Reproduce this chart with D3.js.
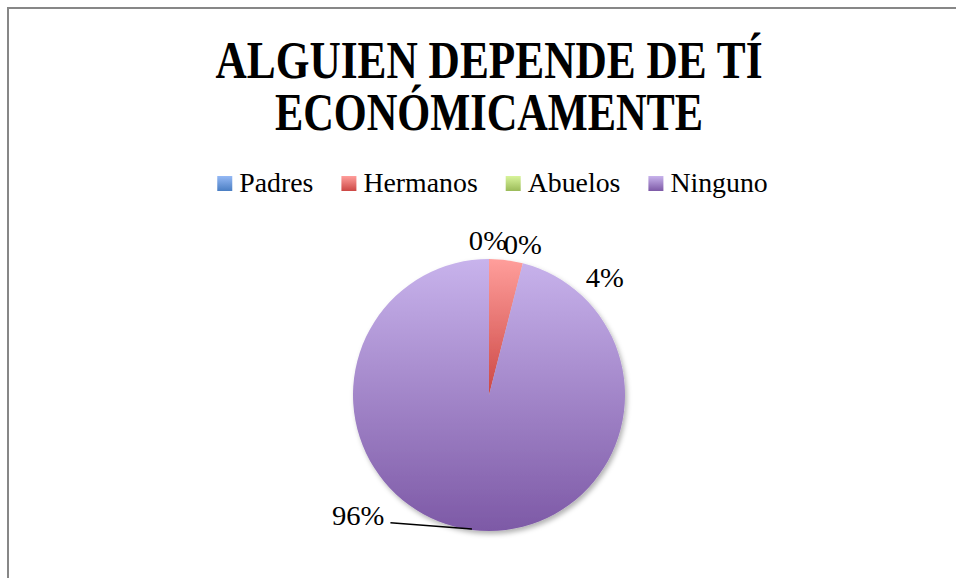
<!DOCTYPE html>
<html>
<head>
<meta charset="utf-8">
<script src="https://cdn.jsdelivr.net/npm/d3@7"></script>
<style>
  html, body { margin: 0; padding: 0; background: #fff; }
  svg { display: block; }
</style>
</head>
<body>
<div id="chart"></div>
<script>
// Pie chart: ¿alguien depende de ti económicamente?
const categories = ["Padres", "Hermanos", "Abuelos", "Ninguno"];
const values = [0, 4, 0, 96];
const labels = ["0%", "4%", "0%", "96%"];
const titleLines = ["ALGUIEN DEPENDE DE TÍ", "ECONÓMICAMENTE"];

// gradient stops (light top -> dark bottom), per category
const colorsLight = ["#95b9f5", "#ff9e9b", "#d8f49b", "#c8b3ec"];
const colorsDark  = ["#4a7ec3", "#cc4744", "#9bbb59", "#7d59a6"];

function drawGraph() {
  const width = 956, height = 578;
  const font = "'Liberation Serif', 'Times New Roman', serif";

  const svg = d3.select("#chart").append("svg")
    .attr("width", width)
    .attr("height", height);

  const defs = svg.append("defs");
  categories.forEach((c, i) => {
    const g = defs.append("linearGradient")
      .attr("id", "grad" + i)
      .attr("x1", 0).attr("y1", 0).attr("x2", 0).attr("y2", 1);
    g.append("stop").attr("offset", "0%").attr("stop-color", colorsLight[i]);
    g.append("stop").attr("offset", "100%").attr("stop-color", colorsDark[i]);
  });

  const shadow = defs.append("filter").attr("id", "shadow")
    .attr("x", "-10%").attr("y", "-10%").attr("width", "125%").attr("height", "125%");
  shadow.append("feDropShadow")
    .attr("dx", 2).attr("dy", 3).attr("stdDeviation", 2.5)
    .attr("flood-color", "#000").attr("flood-opacity", 0.3);

  // stretch a text element horizontally to mimic the wider Cambria face
  function widen(sel, k) {
    const w = sel.node().getComputedTextLength();
    sel.attr("textLength", w * k).attr("lengthAdjust", "spacingAndGlyphs");
    return w * k;
  }

  // chart frame (extends past the window on right/bottom)
  svg.append("rect")
    .attr("x", 8).attr("y", 8)
    .attr("width", width + 20).attr("height", height + 20)
    .attr("fill", "none")
    .attr("stroke", "#878787")
    .attr("stroke-width", 2);

  // TITLE
  const titleWidths = [547, 428];
  const titleY = [78, 130];
  titleLines.forEach((t, i) => {
    svg.append("text")
      .attr("x", 489)
      .attr("y", titleY[i])
      .attr("text-anchor", "middle")
      .attr("textLength", titleWidths[i])
      .attr("lengthAdjust", "spacingAndGlyphs")
      .style("font-family", font)
      .style("font-weight", "bold")
      .style("font-size", "52px")
      .style("fill", "#000")
      .text(t);
  });

  // LEGEND
  const legend = svg.append("g");
  const sw = 15, gapIn = 7, gapOut = 28;
  let lx = 0;
  categories.forEach((c, i) => {
    const item = legend.append("g").attr("transform", `translate(${lx},0)`);
    item.append("rect")
      .attr("x", 0).attr("y", -16)
      .attr("width", sw).attr("height", sw)
      .attr("fill", `url(#grad${i})`);
    const txt = item.append("text")
      .attr("x", sw + gapIn).attr("y", 0)
      .style("font-family", font)
      .style("font-size", "27px")
      .style("fill", "#000")
      .text(c);
    lx += sw + gapIn + widen(txt, 1.03) + gapOut;
  });
  const legendW = lx - gapOut;
  legend.attr("transform", `translate(${492.5 - legendW / 2},192)`);

  // PIE
  const cx = 489, cy = 395, r = 136;
  const pie = d3.pie().sort(null).value(d => d.value);
  const arcs = pie(categories.map((c, i) => ({ key: c, value: values[i], label: labels[i], i })));
  const arc = d3.arc().innerRadius(0).outerRadius(r);

  const plot = svg.append("g").attr("transform", `translate(${cx},${cy})`);
  const slices = plot.append("g").attr("filter", "url(#shadow)");
  slices.selectAll("path")
    .data(arcs.filter(d => d.value > 0))
    .join("path")
    .attr("d", arc)
    .attr("fill", d => `url(#grad${d.data.i})`);

  // label placement (Excel shifts crowded labels away from each other)
  const labelPos = {
    Padres:   { angle: -0.4, radius: 154 },
    Hermanos: { angle: 44.6, radius: 165 },
    Abuelos:  { angle: 12.7, radius: 154 },
    Ninguno:  { angle: 227.3, radius: 178 }
  };
  const toXY = (deg, rad) => [rad * Math.sin(deg * Math.PI / 180), -rad * Math.cos(deg * Math.PI / 180)];

  arcs.forEach(d => {
    const p = labelPos[d.data.key];
    const [x, y] = toXY(p.angle, p.radius);
    const t = plot.append("text")
      .attr("x", x).attr("y", y)
      .attr("text-anchor", "middle")
      .attr("dominant-baseline", "central")
      .style("font-family", font)
      .style("font-size", "27px")
      .style("fill", "#000")
      .text(d.data.label);
    const w = widen(t, 1.06);

    if (d.data.key === "Ninguno") {
      const mid = (d.startAngle + d.endAngle) / 2 * 180 / Math.PI;
      const [ax, ay] = toXY(mid, r);
      plot.append("line")
        .attr("x1", x + w / 2 + 6).attr("y1", y + 7)
        .attr("x2", ax).attr("y2", ay - 1)
        .attr("stroke", "#000")
        .attr("stroke-width", 1.5);
    }
  });
}

drawGraph();
</script>
</body>
</html>
